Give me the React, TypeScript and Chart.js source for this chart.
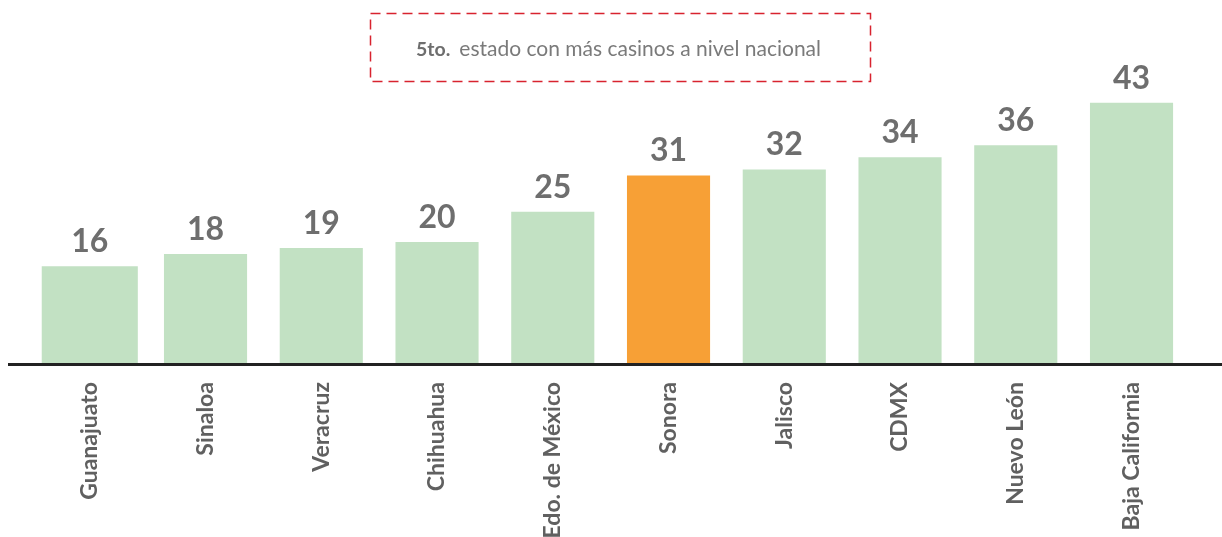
import React, { useEffect, useRef } from "react";
import { Chart, registerables } from "chart.js";

Chart.register(...registerables);

const categories = [
  "Guanajuato",
  "Sinaloa",
  "Veracruz",
  "Chihuahua",
  "Edo. de México",
  "Sonora",
  "Jalisco",
  "CDMX",
  "Nuevo León",
  "Baja California",
];
const casinos = [16, 18, 19, 20, 25, 31, 32, 34, 36, 43];
const highlighted = "Sonora";
const noteBold = "5to.";
const noteText = "estado con más casinos a nivel nacional";

const GREEN = "#c2e1c3";
const ORANGE = "#f7a036";
const FONT = "Lato, 'Open Sans', sans-serif";

const valueLabels = {
  id: "valueLabels",
  afterDatasetsDraw(chart: any) {
    const ctx = chart.ctx;
    ctx.save();
    ctx.font = `bold 32px ${FONT}`;
    ctx.fillStyle = "#6e6e6e";
    ctx.textAlign = "center";
    ctx.textBaseline = "alphabetic";
    chart.data.datasets.forEach((ds: any, di: number) => {
      const meta = chart.getDatasetMeta(di);
      meta.data.forEach((el: any, i: number) => {
        const v = ds.data[i];
        if (v === null || v === undefined) return;
        ctx.fillText(String(v), el.x, el.y - 14);
      });
    });
    ctx.restore();
  },
};

const baseLine = {
  id: "baseLine",
  afterDatasetsDraw(chart: any) {
    const ctx = chart.ctx;
    const y = chart.scales.y.getPixelForValue(0);
    ctx.save();
    ctx.strokeStyle = "#222222";
    ctx.lineWidth = 3;
    ctx.beginPath();
    ctx.moveTo(8, y + 1.5);
    ctx.lineTo(chart.width, y + 1.5);
    ctx.stroke();
    ctx.restore();
  },
};

const noteBox = {
  id: "noteBox",
  afterDraw(chart: any) {
    const ctx = chart.ctx;
    ctx.save();
    ctx.strokeStyle = "#d8232f";
    ctx.lineWidth = 1.5;
    ctx.setLineDash([10, 6]);
    ctx.strokeRect(370.5, 13.5, 500, 68);
    ctx.setLineDash([]);
    ctx.textBaseline = "alphabetic";
    ctx.textAlign = "left";
    ctx.font = `bold 19.5px ${FONT}`;
    ctx.fillStyle = "#6e6e6e";
    ctx.fillText(noteBold, 416, 56);
    const w = ctx.measureText(noteBold).width;
    ctx.font = `21px ${FONT}`;
    ctx.fillStyle = "#7a7a7a";
    ctx.fillText(noteText, 416 + w + 9, 56);
    ctx.restore();
  },
};

export default function App() {
  const ref = useRef<HTMLCanvasElement>(null);

  useEffect(() => {
    if (!ref.current) return;
    const colors = categories.map((c) => (c === highlighted ? ORANGE : GREEN));
    const chart = new Chart(ref.current, {
      type: "bar",
      data: {
        labels: categories,
        datasets: [
          {
            data: casinos.map((v, i) => (i === 0 ? v : null)),
            backgroundColor: colors,
            barPercentage: 0.83,
            categoryPercentage: 1,
            grouped: false,
          } as any,
          {
            data: casinos.map((v, i) => (i === 0 ? null : v)),
            backgroundColor: colors,
            barPercentage: 0.718,
            categoryPercentage: 1,
            grouped: false,
          } as any,
        ],
      },
      options: {
        animation: false,
        responsive: false,
        layout: { padding: { left: 31.9, right: 32.6, top: 0, bottom: 0 } },
        plugins: {
          legend: { display: false },
          tooltip: { enabled: false },
        },
        scales: {
          x: {
            grid: { display: false, drawTicks: false },
            border: { display: false },
            ticks: {
              minRotation: 90,
              maxRotation: 90,
              autoSkip: false,
              padding: 19,
              color: "#606060",
              font: { family: FONT, size: 23, weight: "bold" },
            },
            afterFit: (scale: any) => {
              scale.height = 174;
            },
          },
          y: {
            display: false,
            min: 0,
            max: 60,
          },
        },
      },
      plugins: [valueLabels, baseLine, noteBox],
    });
    return () => chart.destroy();
  }, []);

  return (
    <div style={{ position: "absolute", left: 0, top: 0, width: 1222, height: 537, background: "#ffffff" }}>
      <canvas ref={ref} width={1222} height={537} style={{ display: "block" }} />
    </div>
  );
}
